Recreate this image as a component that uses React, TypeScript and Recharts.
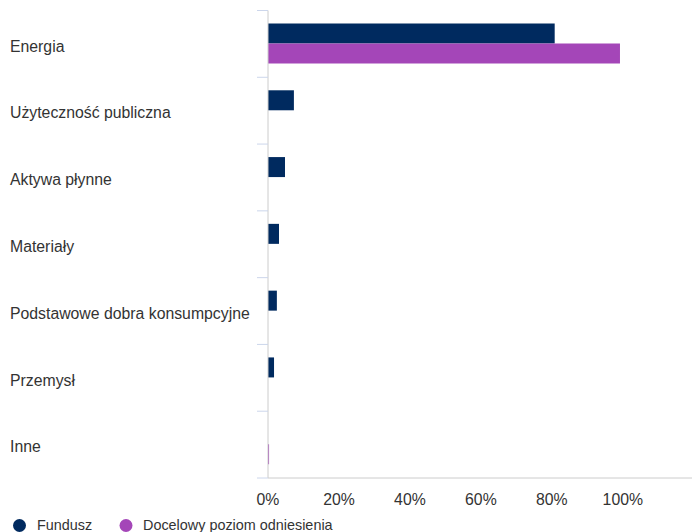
import React from "react";
import { BarChart, Bar, XAxis, YAxis } from "recharts";

const categories = [
  "Energia",
  "Użyteczność publiczna",
  "Aktywa płynne",
  "Materiały",
  "Podstawowe dobra konsumpcyjne",
  "Przemysł",
  "Inne",
];
const fundValues = [80.8, 7.3, 4.8, 3.1, 2.5, 1.7, 0];
const benchmarkValues = [99.2, 0, 0, 0, 0, 0, 0.3];
const xTicks = [0, 20, 40, 60, 80, 100];
const xDomain = [0, 119.5];
const seriesNames = ["Fundusz", "Docelowy poziom odniesienia"];

const NAVY = "#002A5F";
const PURPLE = "#A446B8";
const FONT = "'Liberation Sans', Arial, Helvetica, sans-serif";
const TEXT = "#333333";

const data = categories.map((name, i) => ({
  name,
  fund: fundValues[i],
  bench: benchmarkValues[i],
}));

const AXIS_X = 268;

const CategoryTick = (props: any) => {
  const { y, payload, index } = props;
  const half = payload && typeof payload.offset === "number" && payload.offset > 0 ? payload.offset : 468 / 14;
  return (
    <g>
      <line x1={AXIS_X - 11} x2={AXIS_X} y1={y - half} y2={y - half} stroke="#ccd6eb" strokeWidth={1} />
      {index === categories.length - 1 && (
        <line x1={AXIS_X - 11} x2={AXIS_X} y1={y + half} y2={y + half} stroke="#ccd6eb" strokeWidth={1} />
      )}
      <text x={10} y={y} dy={7.8} textAnchor="start" fill={TEXT} fontSize={15.8} fontFamily={FONT}>
        {payload.value}
      </text>
    </g>
  );
};

export default function App() {
  return (
    <div style={{ position: "absolute", left: 0, top: 0, width: 692, height: 532, background: "#fff" }}>
      <BarChart
        width={692}
        height={532}
        data={data}
        layout="vertical"
        margin={{ top: 10.5, right: 0, bottom: 0, left: 0 }}
        barCategoryGap={13}
        barGap={0}
      >
        <XAxis
          type="number"
          domain={xDomain}
          ticks={xTicks}
          interval={0}
          height={54}
          tickLine={false}
          tickSize={0}
          tickMargin={16}
          axisLine={{ stroke: "#cccccc" }}
          tickFormatter={(v: number) => `${v}%`}
          tick={{ fill: TEXT, fontSize: 15.8, fontFamily: FONT }}
          allowDataOverflow
        />
        <YAxis
          type="category"
          dataKey="name"
          width={268}
          interval={0}
          tickLine={false}
          axisLine={{ stroke: "#cccccc" }}
          tick={<CategoryTick />}
        />
        <Bar dataKey="fund" name={seriesNames[0]} fill={NAVY} isAnimationActive={false} />
        <Bar dataKey="bench" name={seriesNames[1]} fill={PURPLE} isAnimationActive={false} />
      </BarChart>
      <svg
        width={692}
        height={532}
        style={{ position: "absolute", left: 0, top: 0, pointerEvents: "none" }}
      >
        <circle cx={19.5} cy={525.5} r={6.5} fill={NAVY} />
        <text x={37} y={530} fontSize={14.4} fontFamily={FONT} fill={TEXT}>
          {seriesNames[0]}
        </text>
        <circle cx={126} cy={525.5} r={6.5} fill={PURPLE} />
        <text x={143} y={530} fontSize={14.4} fontFamily={FONT} fill={TEXT}>
          {seriesNames[1]}
        </text>
      </svg>
    </div>
  );
}
